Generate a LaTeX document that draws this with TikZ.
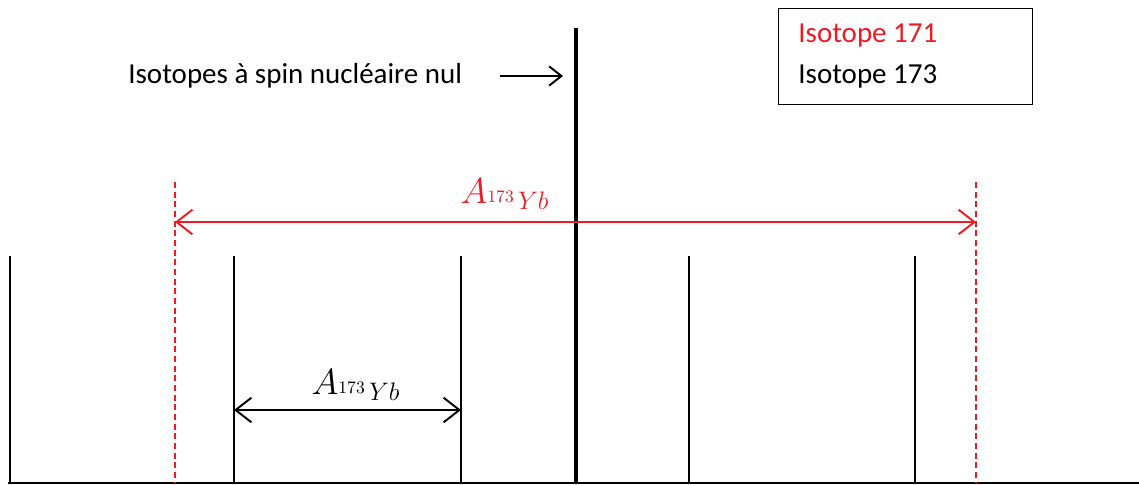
\documentclass[tikz,border=0pt]{standalone}
\usepackage{fontspec}
\setmainfont{Carlito}
\definecolor{isored}{HTML}{ED1C24}
\usetikzlibrary{arrows.meta, positioning}
\tikzset{
	peakline/.style={line width=0.9pt, black}
}
\tikzset{
	nulline/.style={line width=2.8pt, black}
}
\tikzset{
	redpeak/.style={line width=0.9pt, isored, dash pattern=on 3.5pt off 2pt}
}
\tikzset{
	gaparrow/.style={line width=1.1pt, {Straight Barb[length=9pt,width=14pt]}-{Straight Barb[length=9pt,width=14pt]}}
}
\tikzset{
	bigtext/.style={font=\fontsize{16.5}{19}\selectfont, inner sep=0pt}
}
\tikzset{
	mathlabel/.style={font=\fontsize{20}{24}\selectfont, inner sep=0pt}
}
\newcommand{\ybsplit}{$A_{\raisebox{4pt}{$\scriptscriptstyle 173$}\,Yb}$}

\begin{document}
\begin{tikzpicture}[x=0.02cm, y=-0.02cm]

	\useasboundingbox (0,0) rectangle (1139,484);

	% axis
	\coordinate (axL) at (8,483);
	\coordinate (axR) at (1139,483);
	\draw[peakline] (axL) -- (axR);

	\begin{scope}
		% isotope 173 peaks
		\coordinate (pA) at (10,256);
		\coordinate (pB) at (234,256);
		\coordinate (pC) at (461,256);
		\coordinate (pD) at (689,256);
		\coordinate (pE) at (915,256);

		\draw[peakline] (pA) -- (pA |- axL);
		\draw[peakline] (pB) -- (pB |- axL);
		\draw[peakline] (pC) -- (pC |- axL);
		\draw[peakline] (pD) -- (pD |- axL);
		\draw[peakline] (pE) -- (pE |- axL);
	\end{scope}

	\begin{scope}
		% isotope 171 peaks
		\coordinate (rA) at (175,182);
		\coordinate (rB) at (976,182);

		\draw[redpeak] (rA) -- (rA |- axL);
		\draw[redpeak] (rB) -- (rB |- axL);
	\end{scope}

	% zero spin
	\coordinate (nTop) at (576,28);
	\draw[nulline] (nTop) -- (nTop |- axL);

	\node[bigtext, anchor=west] (nul) at (128,76) {Isotopes à spin nucléaire nul};
	\coordinate (nulStart) at (500,76);
	\coordinate (nulEnd) at (563,76);
	\draw[line width=1.1pt, -{Straight Barb[length=7pt,width=11pt]}] (nulStart) -- (nulEnd);

	% splittings
	\coordinate (redL) at (175,222);
	\coordinate (redR) at (976,222);
	\draw[gaparrow, isored] (redL) -- (redR);
	\node[mathlabel, isored] (redlab) at (505,194) {\ybsplit};

	\coordinate (blkL) at (234,410);
	\coordinate (blkR) at (461,410);
	\draw[gaparrow] (blkL) -- (blkR);
	\node[mathlabel] (blklab) at (356,385) {\ybsplit};

	% legend
	\node[draw, line width=0.8pt, minimum width=254*0.02cm, minimum height=96*0.02cm, anchor=north west] (legend) at (778,8) {};
	\node[bigtext, isored, anchor=west] (l171) at (798,36) {Isotope 171};
	\node[bigtext, anchor=west] (l173) at (798,76) {Isotope 173};

\end{tikzpicture}
\end{document}
